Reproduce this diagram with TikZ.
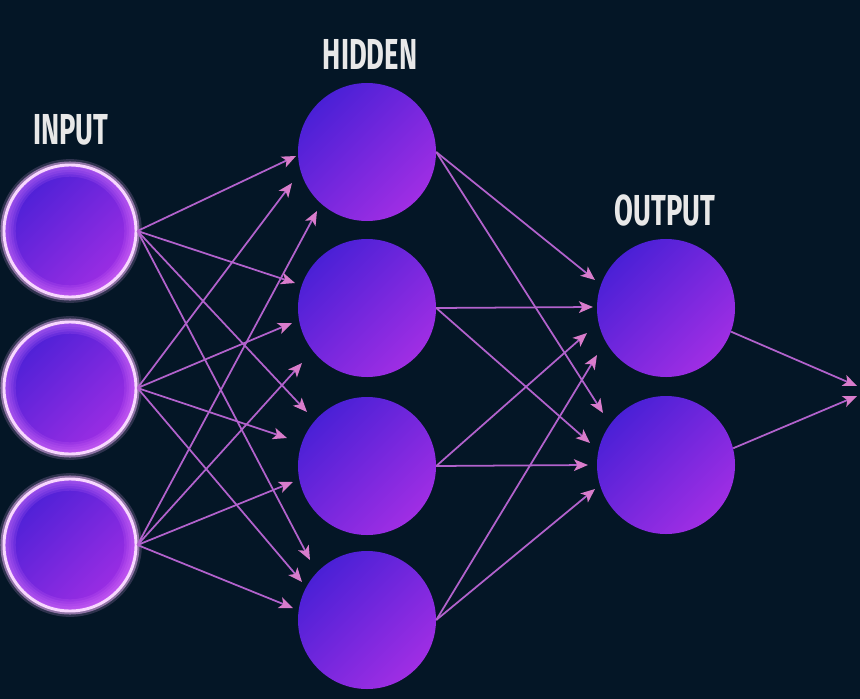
\documentclass[tikz,border=0pt]{standalone}
\usepackage{fontspec}
\usepackage{tikz}
\usetikzlibrary{arrows.meta}
\newfontfamily\layerfont[FakeStretch=0.63]{Fira Sans}

\definecolor{bg}{HTML}{041626}
\definecolor{nodeblue}{HTML}{4A20D6}
\definecolor{nodepurple}{HTML}{A02EE4}
\definecolor{glowpink}{HTML}{F2B6FF}
\definecolor{innerpink}{HTML}{E27CFF}
\definecolor{linkcol}{HTML}{B262CC}
\definecolor{tipcol}{HTML}{D97CCB}
\definecolor{labelgray}{HTML}{E8E8E8}

\tikzset{
  neuron/.style={circle, inner sep=0pt, minimum size=4.14cm,
    top color=nodeblue, bottom color=nodepurple, shading angle=45},
  inneuron/.style={neuron, minimum size=3.96cm, draw=glowpink!55!white, line width=2.5pt,
    preaction={draw=glowpink, line width=10pt, opacity=0.18},
    preaction={draw=glowpink, line width=6pt, opacity=0.5},
    path picture={\foreach \w in {4,8,12,16,20}
      \draw[innerpink, opacity=0.14, line width=\w pt] (path picture bounding box.center) circle (1.98cm);}},
  link/.style={linkcol, line width=1.5pt,
    -{Stealth[length=12pt, width=10pt, inset=3pt, color=tipcol]}},
  layer/.style={labelgray, inner sep=0pt, font=\layerfont\bfseries\fontsize{37}{40}\selectfont}
}

\begin{document}
\begin{tikzpicture}[x=0.03cm, y=-0.03cm]
% background
\fill[bg] (0,0) rectangle (860,699);
\useasboundingbox (0,0) rectangle (860,699);

% layer labels
\node[layer] (inlabel) at (71,130) {INPUT};
\node[layer] (hidlabel) at (370,54) {HIDDEN};
\node[layer] (outlabel) at (665,210) {OUTPUT};

% input layer
\node[inneuron] (in1) at (70,231) {};
\node[inneuron] (in2) at (70,388) {};
\node[inneuron] (in3) at (70,545) {};

% hidden layer
\node[neuron] (h1) at (367,152) {};
\node[neuron] (h2) at (367,308) {};
\node[neuron] (h3) at (367,466) {};
\node[neuron] (h4) at (367,620) {};

% output layer
\node[neuron] (out1) at (666,308) {};
\node[neuron] (out2) at (666,465) {};
\coordinate (res1) at (857,386);
\coordinate (res2) at (857,396);

% input -> hidden
\foreach \s/\t/\dx/\dy in {in1/h1/-71/4, in2/h1/-75/31, in3/h1/-50/59,
    in1/h2/-72/-25, in2/h2/-75/15, in3/h2/-65/55,
    in1/h3/-60/-54, in2/h3/-80/-28, in3/h3/-74/16,
    in1/h4/-57/-60, in2/h4/-65/-38, in3/h4/-74/-12}
  \draw[link] (\s.east) -- ([shift={(\dx,\dy)}]\t.center);

% hidden -> output
\foreach \s/\t/\dx/\dy in {h1/out1/-71/-28, h1/out2/-63/-52,
    h2/out1/-73/-1, h2/out2/-76/-22,
    h3/out1/-79/25, h3/out2/-78/0,
    h4/out1/-69/47, h4/out2/-71/24}
  \draw[link] (\s.east) -- ([shift={(\dx,\dy)}]\t.center);

% output -> result
\draw[link] (out1.-20) -- (res1);
\draw[link] (out2.14) -- (res2);
\end{tikzpicture}
\end{document}
